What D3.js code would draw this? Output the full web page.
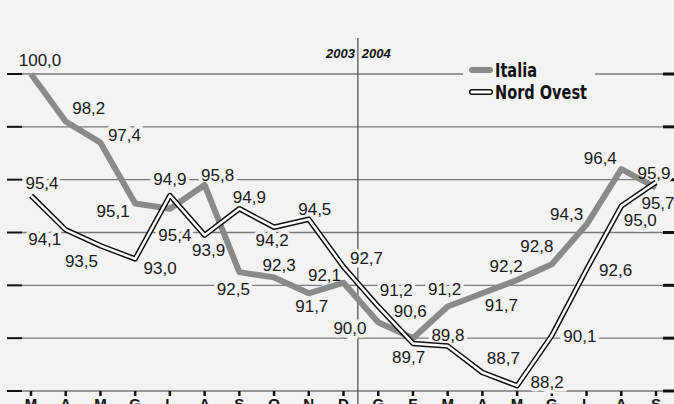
<!DOCTYPE html>
<html>
<head>
<meta charset="utf-8">
<script src="https://cdn.jsdelivr.net/npm/d3@7"></script>
<style>
  html, body { margin: 0; padding: 0; background: #f3f3f3; }
  svg { display: block; }
</style>
</head>
<body>
<div id="chart_div"></div>
<script>
// months mar 2003 -> set 2004
let months = ['M', 'A', 'M', 'G', 'L', 'A', 'S', 'O', 'N', 'D', 'G', 'F', 'M', 'A', 'M', 'G', 'L', 'A', 'S'];
let italia = [100.0, 98.2, 97.4, 95.1, 94.9, 95.8, 92.5, 92.3, 91.7, 92.1, 90.6, 90.0, 91.2, 91.7, 92.2, 92.8, 94.3, 96.4, 95.7];
let nord_ovest = [95.4, 94.1, 93.5, 93.0, 95.4, 93.9, 94.9, 94.2, 94.5, 92.7, 91.2, 89.8, 89.7, 88.7, 88.2, 90.1, 92.6, 95.0, 95.9];
let y_ticks = [88, 90, 92, 94, 96, 98, 100];
let years = ['2003', '2004'];
let series_names = ['Italia', 'Nord Ovest'];

// label placement (pixel offsets from the point)
let italia_label_off = [[9, -14], [23, -14], [24, -8], [-22, 7], [0, -30], [13, -10], [-6, 17], [5, -13], [3, 13], [-19, -8],
    [32, -11], [-63, -10], [-3, -18], [19, 12], [-11, -14], [-15, -18], [-20, -11], [-21, -11], [2, 15]];
let nord_label_off = [[11, -13], [-21, 9], [-19, 15], [25, 9], [5, 39], [4, 15], [10, -12], [-2, 13], [6, -10], [23, -9],
    [18, -17], [35, -9], [-39, 11], [21, -15], [30, -4], [28, 0], [29, 0], [19, 14], [-2, -9]];
let legend_text_len = [42, 92];

let width = 674, height = 404, bg = '#f3f3f3';
let num_font = '"Liberation Sans", Arial, sans-serif';
let narrow_font = '"Liberation Sans Narrow", "DejaVu Sans Condensed", sans-serif';

let svg = d3.select('#chart_div').append('svg')
    .attr('width', width)
    .attr('height', height);

svg.append('rect').attr('width', width).attr('height', height).attr('fill', bg);

let x = d3.scaleLinear().domain([0, months.length - 1]).range([31, 656]);
let y = d3.scaleLinear().domain([88, 100]).range([391, 74]);

// gridlines
svg.append('g').selectAll('line')
    .data(y_ticks)
    .enter().append('line')
    .attr('x1', 22).attr('x2', 663)
    .attr('y1', d => y(d)).attr('y2', d => y(d))
    .attr('stroke', '#7a7a7a').attr('stroke-width', 1.3);

// left / right tick marks
svg.append('g').selectAll('line')
    .data(y_ticks)
    .enter().append('line')
    .attr('x1', 7).attr('x2', 22)
    .attr('y1', d => y(d)).attr('y2', d => y(d))
    .attr('stroke', '#111').attr('stroke-width', 2);

svg.append('g').selectAll('line')
    .data(y_ticks)
    .enter().append('line')
    .attr('x1', 663).attr('x2', 674)
    .attr('y1', d => y(d)).attr('y2', d => y(d))
    .attr('stroke', '#111').attr('stroke-width', 3);

// bottom month ticks + labels
svg.append('g').selectAll('line')
    .data(months)
    .enter().append('line')
    .attr('x1', (d, i) => x(i)).attr('x2', (d, i) => x(i))
    .attr('y1', y(88)).attr('y2', y(88) + 5)
    .attr('stroke', '#111').attr('stroke-width', 2.5);

svg.append('g').selectAll('text')
    .data(months)
    .enter().append('text')
    .attr('x', (d, i) => x(i))
    .attr('y', 409)
    .attr('text-anchor', 'middle')
    .style('font-family', num_font)
    .style('font-weight', 'bold')
    .style('font-size', '15px')
    .attr('fill', '#111')
    .text(d => d);

// year divider
let div_x = (x(9) + x(10)) / 2 - 3;
svg.append('line')
    .attr('x1', div_x).attr('x2', div_x)
    .attr('y1', 38).attr('y2', height)
    .attr('stroke', '#555').attr('stroke-width', 1.3);

svg.append('text')
    .attr('x', div_x - 3).attr('y', 58)
    .attr('text-anchor', 'end')
    .style('font-family', num_font).style('font-weight', 'bold').style('font-style', 'italic')
    .style('font-size', '13px').attr('fill', '#111')
    .text(years[0]);
svg.append('text')
    .attr('x', div_x + 4).attr('y', 58)
    .attr('text-anchor', 'start')
    .style('font-family', num_font).style('font-weight', 'bold').style('font-style', 'italic')
    .style('font-size', '13px').attr('fill', '#111')
    .text(years[1]);

let fmt = v => d3.format('.1f')(v).replace('.', ',');

function label_data(values, offsets) {
    return values.map((v, i) => ({
        x: x(i) + offsets[i][0],
        y: y(v) + offsets[i][1],
        text: fmt(v)
    }));
}
let all_labels = label_data(italia, italia_label_off).concat(label_data(nord_ovest, nord_label_off));

// halo under the lines so gridlines get cut
svg.append('g').selectAll('text')
    .data(all_labels)
    .enter().append('text')
    .attr('x', d => d.x).attr('y', d => d.y)
    .attr('dy', '0.36em')
    .attr('text-anchor', 'middle')
    .style('font-family', num_font).style('font-size', '17px')
    .attr('fill', bg).attr('stroke', bg).attr('stroke-width', 7)
    .text(d => d.text);

let line = d3.line()
    .x((d, i) => x(i))
    .y(d => y(d));

svg.append('path')
    .datum(italia)
    .attr('d', line)
    .attr('fill', 'none')
    .attr('stroke', '#8a8a8a')
    .attr('stroke-width', 6)
    .attr('stroke-linejoin', 'round');

svg.append('path')
    .datum(nord_ovest)
    .attr('d', line)
    .attr('fill', 'none')
    .attr('stroke', '#111')
    .attr('stroke-width', 5.5)
    .attr('stroke-linejoin', 'round');

svg.append('path')
    .datum(nord_ovest)
    .attr('d', line)
    .attr('fill', 'none')
    .attr('stroke', '#fff')
    .attr('stroke-width', 2.5)
    .attr('stroke-linejoin', 'round');

svg.append('g').selectAll('text')
    .data(all_labels)
    .enter().append('text')
    .attr('x', d => d.x).attr('y', d => d.y)
    .attr('dy', '0.36em')
    .attr('text-anchor', 'middle')
    .style('font-family', num_font).style('font-size', '17px')
    .attr('fill', '#1a1a1a')
    .text(d => d.text);

// legend
let legend = svg.append('g').attr('transform', 'translate(463,60)');
legend.append('rect').attr('width', 132).attr('height', 42).attr('fill', bg);

legend.append('line')
    .attr('x1', 9).attr('x2', 27).attr('y1', 10).attr('y2', 10)
    .attr('stroke', '#8a8a8a').attr('stroke-width', 6).attr('stroke-linecap', 'round');
legend.append('line')
    .attr('x1', 9).attr('x2', 27).attr('y1', 32).attr('y2', 32)
    .attr('stroke', '#111').attr('stroke-width', 6).attr('stroke-linecap', 'round');
legend.append('line')
    .attr('x1', 9).attr('x2', 27).attr('y1', 32).attr('y2', 32)
    .attr('stroke', '#fff').attr('stroke-width', 3).attr('stroke-linecap', 'round');

legend.selectAll('text.leg')
    .data(series_names)
    .enter().append('text')
    .attr('class', 'leg')
    .attr('x', 32)
    .attr('y', (d, i) => 17 + i * 22)
    .attr('textLength', (d, i) => legend_text_len[i])
    .attr('lengthAdjust', 'spacingAndGlyphs')
    .style('font-family', narrow_font).style('font-weight', 'bold')
    .style('font-size', '19px')
    .attr('fill', '#111')
    .text(d => d);
</script>
</body>
</html>
